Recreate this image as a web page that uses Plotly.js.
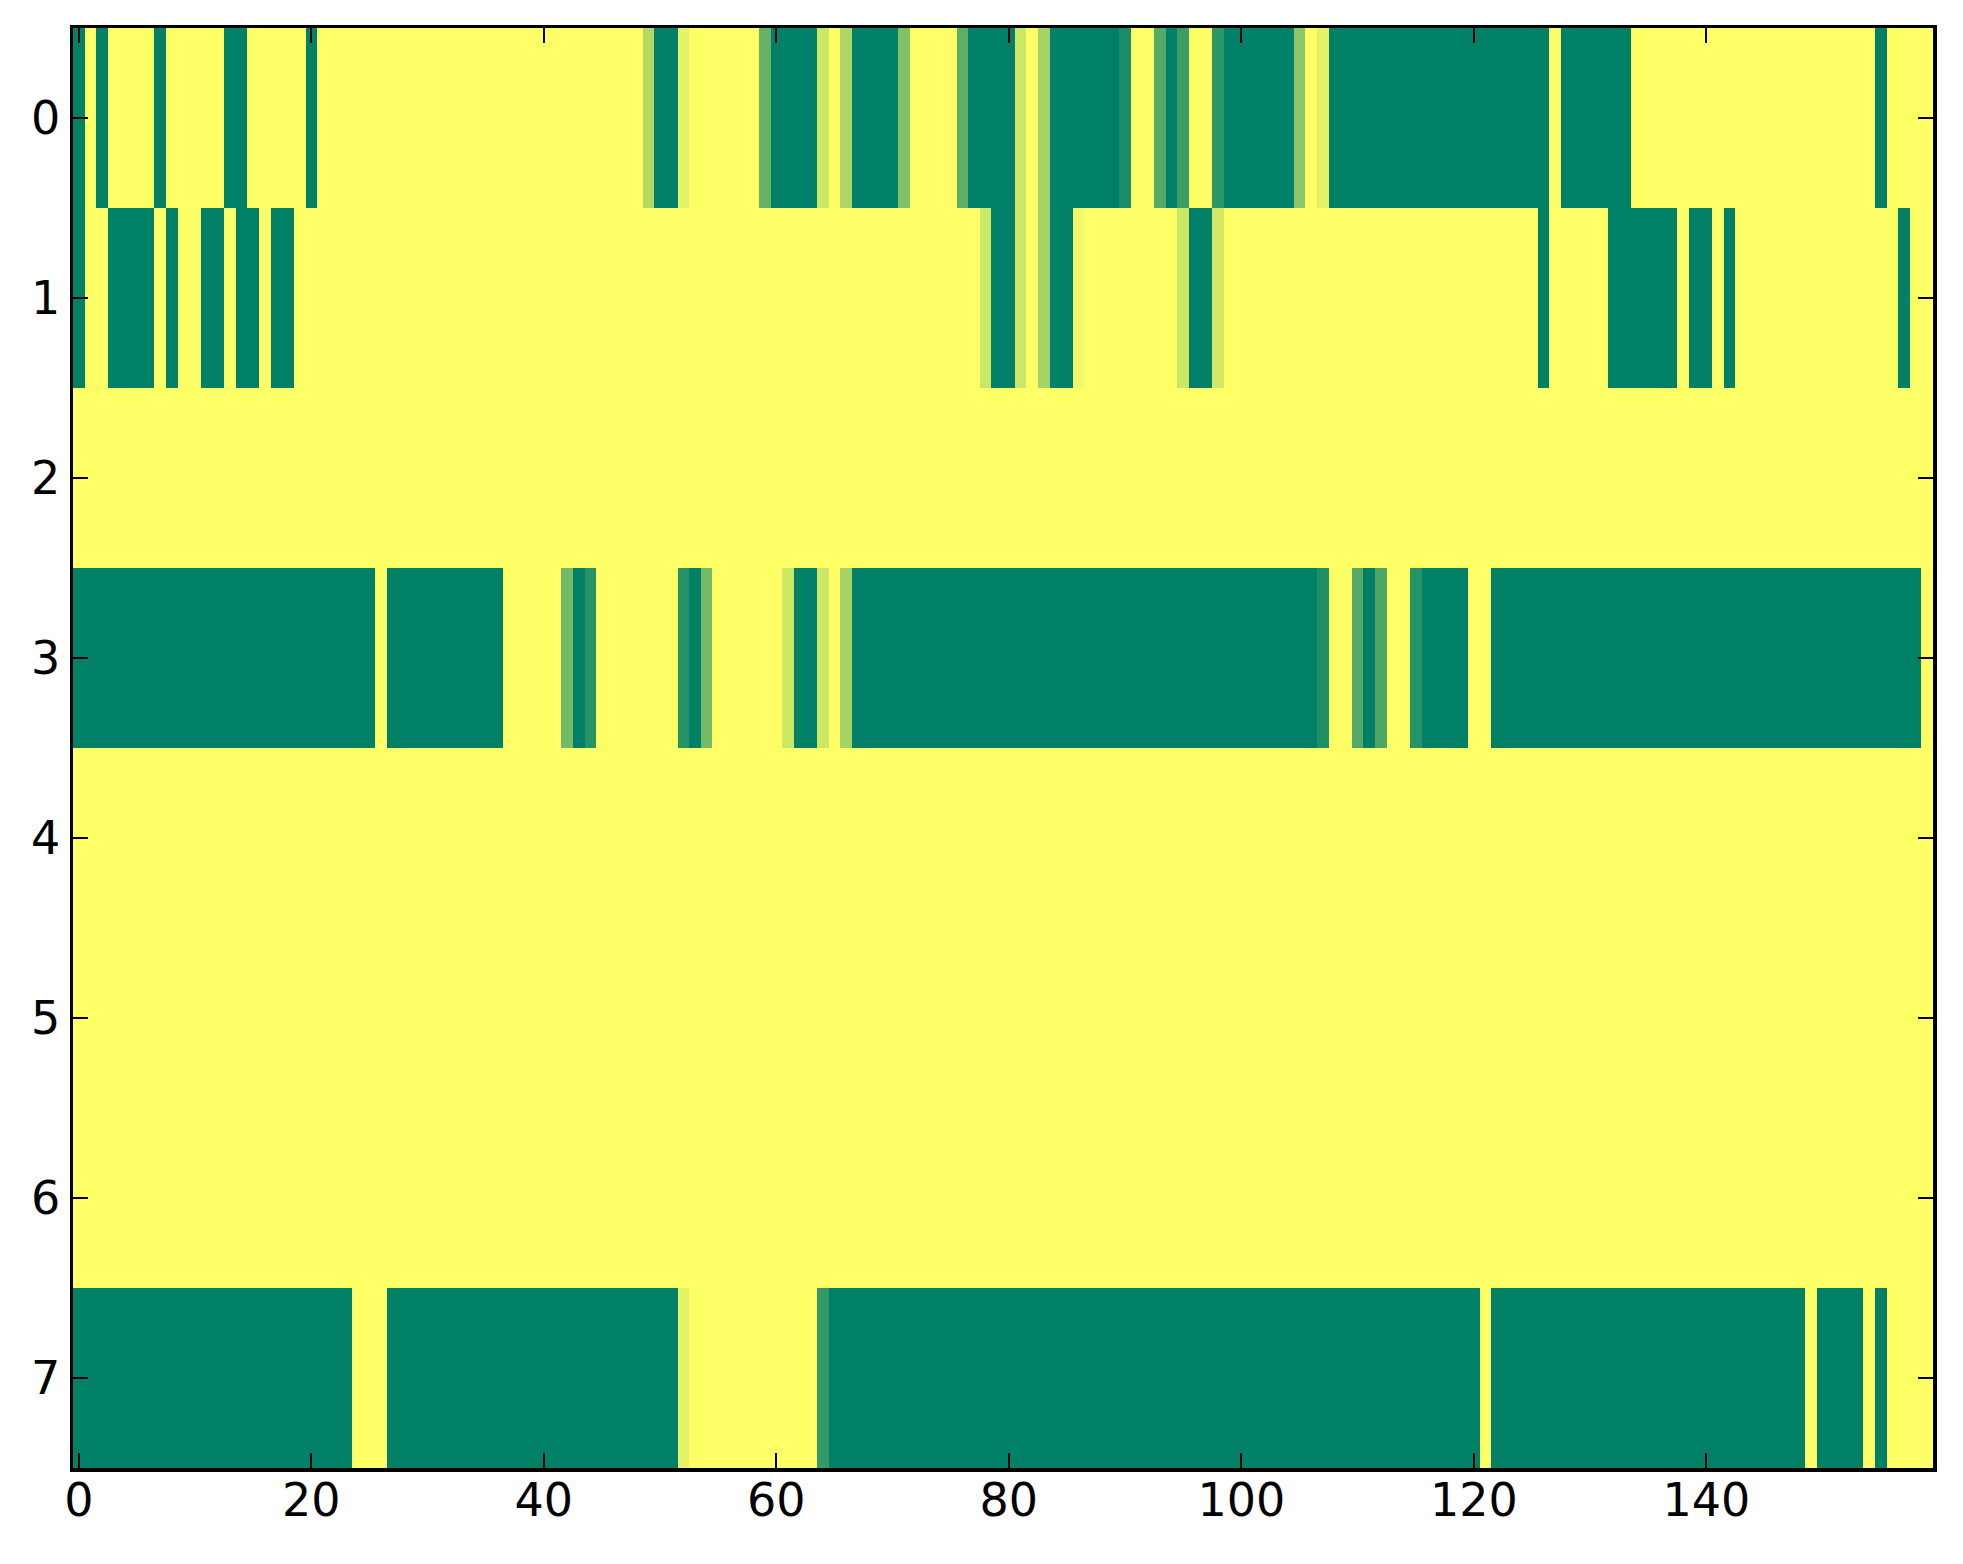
<!DOCTYPE html>
<html>
<head>
<meta charset="utf-8">
<script src="https://cdn.plot.ly/plotly-3.0.1.min.js"></script>
<style>
  html, body { margin: 0; padding: 0; background: #ffffff; }
  #chart { width: 1963px; height: 1564px; }
</style>
</head>
<body>
<div id="chart"></div>
<script>
// Row labels (image rows, top to bottom)
const rowLabels = [0, 1, 2, 3, 4, 5, 6, 7];
const xTickVals = [0, 20, 40, 60, 80, 100, 120, 140];

// Cell values per row (0 = green, 1 = yellow), 160 columns each
const row0 = [
  0,1,0,1,1,1,1,0,1,1,1,1,1,0,0,1,1,1,1,1,
  0,1,1,1,1,1,1,1,1,1,1,1,1,1,1,1,1,1,1,1,
  1,1,1,1,1,1,1,1,1,0.7,0,0,0.9,1,1,1,1,1,1,0.4,
  0,0,0,0,0.8,1,0.68,0,0,0,0,0.5,1,1,1,1,0.37,0,0,0,
  0,0.8,1,0.65,0,0,0,0,0,0,0.1,1,1,0.33,0,0.23,1,1,0.17,0,
  0,0,0,0,0,0.55,1,0.9,0,0,0,0,0,0,0,0,0,0,0,0,
  0,0,0,0,0,0,0,1,0,0,0,0,0,0,1,1,1,1,1,1,
  1,1,1,1,1,1,1,1,1,1,1,1,1,1,1,0,1,1,1,1
];
const row1 = [
  0,1,1,0,0,0,0,1,0,1,1,0,0,1,0,0,1,0,0,1,
  1,1,1,1,1,1,1,1,1,1,1,1,1,1,1,1,1,1,1,1,
  1,1,1,1,1,1,1,1,1,1,1,1,1,1,1,1,1,1,1,1,
  1,1,1,1,1,1,1,1,1,1,1,1,1,1,1,1,1,1,0.8,0,
  0,0.8,1,0.65,0,0,0.95,1,1,1,1,1,1,1,1,0.8,0,0,0.82,1,
  1,1,1,1,1,1,1,1,1,1,1,1,1,1,1,1,1,1,1,1,
  1,1,1,1,1,1,0,1,1,1,1,1,0,0,0,0,0,0,1,0,
  0,1,0,1,1,1,1,1,1,1,1,1,1,1,1,1,1,0,1,1
];
const row2 = [
  1,1,1,1,1,1,1,1,1,1,1,1,1,1,1,1,1,1,1,1,
  1,1,1,1,1,1,1,1,1,1,1,1,1,1,1,1,1,1,1,1,
  1,1,1,1,1,1,1,1,1,1,1,1,1,1,1,1,1,1,1,1,
  1,1,1,1,1,1,1,1,1,1,1,1,1,1,1,1,1,1,1,1,
  1,1,1,1,1,1,1,1,1,1,1,1,1,1,1,1,1,1,1,1,
  1,1,1,1,1,1,1,1,1,1,1,1,1,1,1,1,1,1,1,1,
  1,1,1,1,1,1,1,1,1,1,1,1,1,1,1,1,1,1,1,1,
  1,1,1,1,1,1,1,1,1,1,1,1,1,1,1,1,1,1,1,1
];
const row3 = [
  0,0,0,0,0,0,0,0,0,0,0,0,0,0,0,0,0,0,0,0,
  0,0,0,0,0,0,1,0,0,0,0,0,0,0,0,0,0,1,1,1,
  1,1,0.45,0,0.15,1,1,1,1,1,1,1,0.15,0,0.45,1,1,1,1,1,
  1,0.8,0,0,0.8,1,0.65,0,0,0,0,0,0,0,0,0,0,0,0,0,
  0,0,0,0,0,0,0,0,0,0,0,0,0,0,0,0,0,0,0,0,
  0,0,0,0,0,0,0,0.12,1,1,0.33,0,0.3,1,1,0.15,0,0,0,0,
  1,1,0,0,0,0,0,0,0,0,0,0,0,0,0,0,0,0,0,0,
  0,0,0,0,0,0,0,0,0,0,0,0,0,0,0,0,0,0,0,1
];
const row4 = [
  1,1,1,1,1,1,1,1,1,1,1,1,1,1,1,1,1,1,1,1,
  1,1,1,1,1,1,1,1,1,1,1,1,1,1,1,1,1,1,1,1,
  1,1,1,1,1,1,1,1,1,1,1,1,1,1,1,1,1,1,1,1,
  1,1,1,1,1,1,1,1,1,1,1,1,1,1,1,1,1,1,1,1,
  1,1,1,1,1,1,1,1,1,1,1,1,1,1,1,1,1,1,1,1,
  1,1,1,1,1,1,1,1,1,1,1,1,1,1,1,1,1,1,1,1,
  1,1,1,1,1,1,1,1,1,1,1,1,1,1,1,1,1,1,1,1,
  1,1,1,1,1,1,1,1,1,1,1,1,1,1,1,1,1,1,1,1
];
const row5 = [
  1,1,1,1,1,1,1,1,1,1,1,1,1,1,1,1,1,1,1,1,
  1,1,1,1,1,1,1,1,1,1,1,1,1,1,1,1,1,1,1,1,
  1,1,1,1,1,1,1,1,1,1,1,1,1,1,1,1,1,1,1,1,
  1,1,1,1,1,1,1,1,1,1,1,1,1,1,1,1,1,1,1,1,
  1,1,1,1,1,1,1,1,1,1,1,1,1,1,1,1,1,1,1,1,
  1,1,1,1,1,1,1,1,1,1,1,1,1,1,1,1,1,1,1,1,
  1,1,1,1,1,1,1,1,1,1,1,1,1,1,1,1,1,1,1,1,
  1,1,1,1,1,1,1,1,1,1,1,1,1,1,1,1,1,1,1,1
];
const row6 = [
  1,1,1,1,1,1,1,1,1,1,1,1,1,1,1,1,1,1,1,1,
  1,1,1,1,1,1,1,1,1,1,1,1,1,1,1,1,1,1,1,1,
  1,1,1,1,1,1,1,1,1,1,1,1,1,1,1,1,1,1,1,1,
  1,1,1,1,1,1,1,1,1,1,1,1,1,1,1,1,1,1,1,1,
  1,1,1,1,1,1,1,1,1,1,1,1,1,1,1,1,1,1,1,1,
  1,1,1,1,1,1,1,1,1,1,1,1,1,1,1,1,1,1,1,1,
  1,1,1,1,1,1,1,1,1,1,1,1,1,1,1,1,1,1,1,1,
  1,1,1,1,1,1,1,1,1,1,1,1,1,1,1,1,1,1,1,1
];
const row7 = [
  0,0,0,0,0,0,0,0,0,0,0,0,0,0,0,0,0,0,0,0,
  0,0,0,0,1,1,1,0,0,0,0,0,0,0,0,0,0,0,0,0,
  0,0,0,0,0,0,0,0,0,0,0,0,0.9,1,1,1,1,1,1,1,
  1,1,1,1,0.2,0,0,0,0,0,0,0,0,0,0,0,0,0,0,0,
  0,0,0,0,0,0,0,0,0,0,0,0,0,0,0,0,0,0,0,0,
  0,0,0,0,0,0,0,0,0,0,0,0,0,0,0,0,0,0,0,0,
  0,1,0,0,0,0,0,0,0,0,0,0,0,0,0,0,0,0,0,0,
  0,0,0,0,0,0,0,0,0,1,0,0,0,0,1,0,1,1,1,1
];

const zRows = [row0, row1, row2, row3, row4, row5, row6, row7];

const trace = {
  type: 'heatmap',
  z: zRows,
  y: rowLabels,
  zmin: 0,
  zmax: 1,
  colorscale: [[0, 'rgb(0,128,102)'], [1, 'rgb(255,255,102)']],
  showscale: false,
  hoverinfo: 'skip',
  xgap: 0,
  ygap: 0
};

const tickFont = { family: 'DejaVu Sans, sans-serif', size: 46, color: '#000000' };

const layout = {
  width: 1963,
  height: 1564,
  margin: { l: 73, r: 30, t: 28, b: 96, pad: 0 },
  paper_bgcolor: '#ffffff',
  plot_bgcolor: '#ffffff',
  showlegend: false,
  xaxis: {
    range: [-0.5, 159.5],
    tickmode: 'array',
    tickvals: xTickVals,
    ticktext: xTickVals.map(String),
    ticks: 'inside',
    ticklen: 15,
    tickwidth: 2,
    tickcolor: '#000000',
    showline: true,
    linewidth: 3.5,
    linecolor: '#000000',
    mirror: 'ticks',
    showgrid: false,
    zeroline: false,
    tickfont: tickFont,
    ticklabelstandoff: -11
  },
  yaxis: {
    range: [7.5, -0.5],
    tickmode: 'array',
    tickvals: rowLabels,
    ticktext: rowLabels.map(String),
    ticks: 'inside',
    ticklen: 15,
    tickwidth: 2,
    tickcolor: '#000000',
    showline: true,
    linewidth: 3.5,
    linecolor: '#000000',
    mirror: 'ticks',
    showgrid: false,
    zeroline: false,
    tickfont: tickFont,
    ticklabelstandoff: 0
  }
};

Plotly.newPlot('chart', [trace], layout, { displayModeBar: false, staticPlot: true });
</script>
</body>
</html>
